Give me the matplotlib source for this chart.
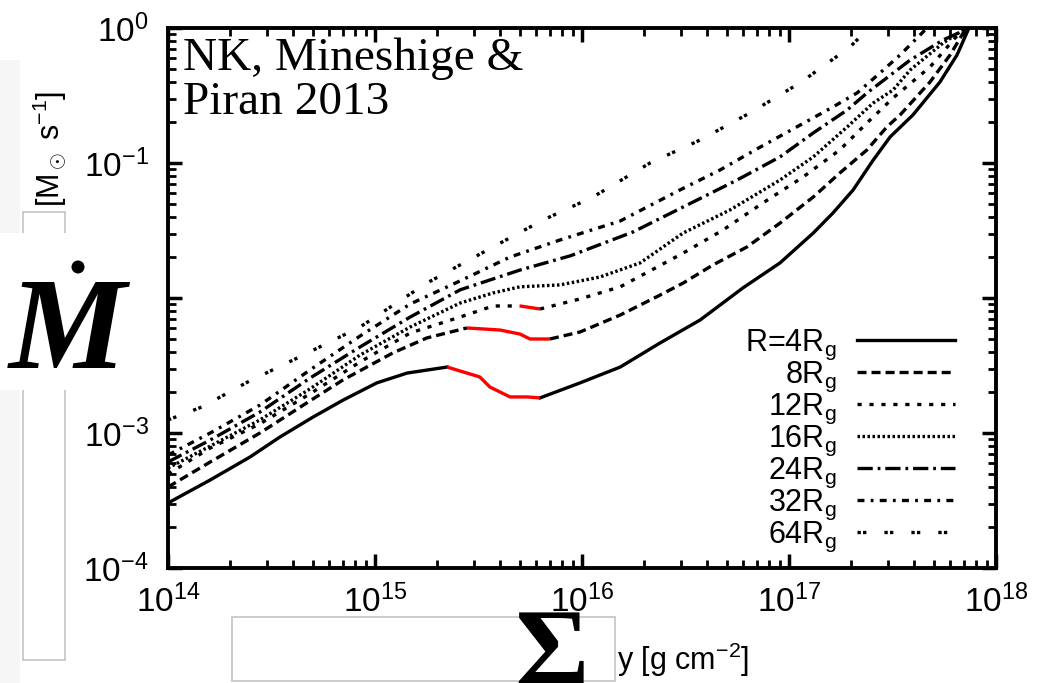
import numpy as np
import matplotlib
matplotlib.use("Agg")
import matplotlib.pyplot as plt
from matplotlib.patches import Rectangle, Ellipse
from matplotlib.ticker import LogLocator, NullFormatter

# surface density [g cm^-2] and accretion rate [Msun s^-1]
sigma_4 = [1.00e14, 1.60e14, 2.49e14, 3.47e14, 5.01e14, 7.00e14, 1.02e15, 1.43e15, 2.23e15,
           3.21e15, 3.59e15, 4.49e15, 5.42e15, 6.27e15, 9.78e15, 1.53e16, 2.38e16, 3.72e16,
           6.00e16, 9.05e16, 1.31e17, 1.63e17, 2.04e17, 2.55e17, 3.08e17, 3.97e17, 5.36e17,
           6.48e17, 7.33e17]
mdot_4 = [3.03e-4, 4.49e-4, 6.64e-4, 9.33e-4, 1.31e-3, 1.75e-3, 2.35e-3, 2.78e-3, 3.08e-3,
          2.60e-3, 2.19e-3, 1.85e-3, 1.85e-3, 1.82e-3, 2.35e-3, 3.08e-3, 4.64e-3, 6.87e-3,
          1.19e-2, 1.82e-2, 3.03e-2, 4.26e-2, 6.31e-2, 0.105, 0.156, 0.227, 0.398,
          0.631, 0.966]

sigma_8 = [1.00e14, 1.60e14, 2.78e14, 4.85e14, 7.00e14, 1.22e15, 1.78e15, 2.78e15, 4.02e15,
           5.01e15, 5.61e15, 7.00e15, 9.78e15, 1.53e16, 2.38e16, 3.08e16, 4.30e16, 6.27e16,
           9.05e16, 1.31e17, 1.76e17, 2.38e17, 2.97e17, 3.44e17, 4.80e17, 6.00e17, 7.08e17]
mdot_8 = [3.98e-4, 6.10e-4, 1.00e-3, 1.73e-3, 2.47e-3, 3.92e-3, 5.06e-3, 6.00e-3, 5.79e-3,
          5.41e-3, 4.97e-3, 4.97e-3, 5.60e-3, 7.48e-3, 1.05e-2, 1.29e-2, 1.76e-2, 2.39e-2,
          3.59e-2, 5.60e-2, 8.43e-2, 0.125, 0.185, 0.227, 0.398, 0.631, 0.966]

sigma_12 = [1.00e14, 1.60e14, 2.78e14, 4.85e14, 8.47e14, 1.48e15, 2.58e15, 3.72e15, 5.01e15,
            6.27e15, 9.78e15, 1.53e16, 3.08e16, 4.80e16, 7.48e16, 1.17e17, 1.76e17, 2.38e17,
            3.18e17, 4.80e17, 6.85e17]
mdot_12 = [4.97e-4, 7.74e-4, 1.17e-3, 1.95e-3, 3.36e-3, 5.51e-3, 7.23e-3, 8.73e-3, 8.73e-3,
           8.29e-3, 9.84e-3, 1.21e-2, 2.15e-2, 3.19e-2, 5.06e-2, 7.88e-2, 0.125, 0.198,
           0.303, 0.514, 0.966]

sigma_16 = [1.00e14, 1.60e14, 2.78e14, 4.85e14, 8.47e14, 1.48e15, 2.58e15, 3.72e15, 5.01e15,
            7.83e15, 1.22e16, 1.91e16, 3.08e16, 5.19e16, 9.05e16, 1.31e17, 1.91e17, 2.55e17,
            3.18e17, 3.85e17, 5.55e17, 6.93e17]
mdot_16 = [5.50e-4, 8.00e-4, 1.25e-3, 2.12e-3, 3.78e-3, 6.10e-3, 9.18e-3, 1.09e-2, 1.21e-2,
           1.25e-2, 1.43e-2, 1.82e-2, 3.03e-2, 4.49e-2, 7.48e-2, 0.111, 0.185, 0.278,
           0.347, 0.489, 0.774, 0.966]

sigma_24 = [1.00e14, 1.60e14, 2.78e14, 4.85e14, 8.47e14, 1.48e15, 2.58e15, 5.01e15, 8.75e15,
            1.76e16, 3.08e16, 5.61e16, 9.05e16, 1.31e17, 1.91e17, 2.38e17, 3.85e17, 5.55e17,
            7.08e17]
mdot_24 = [6.10e-4, 8.87e-4, 1.43e-3, 2.55e-3, 4.34e-3, 7.23e-3, 1.15e-2, 1.61e-2, 2.05e-2,
           3.08e-2, 4.72e-2, 7.48e-2, 0.111, 0.167, 0.247, 0.330, 0.579, 0.815, 0.966]

sigma_32 = [1.00e14, 1.60e14, 2.78e14, 4.85e14, 8.47e14, 1.48e15, 2.58e15, 4.49e15, 7.83e15,
            1.53e16, 2.97e16, 4.64e16, 7.25e16, 1.09e17, 1.63e17, 2.13e17, 2.75e17, 3.44e17,
            4.54e17]
mdot_32 = [6.87e-4, 1.00e-3, 1.61e-3, 2.93e-3, 5.23e-3, 9.03e-3, 1.34e-2, 2.01e-2, 2.69e-2,
           3.72e-2, 6.31e-2, 8.87e-2, 0.131, 0.185, 0.260, 0.330, 0.464, 0.631, 0.966]

sigma_64 = [1.00e14, 1.46e14, 2.43e14, 4.02e14, 8.47e14, 1.78e15, 3.72e15, 6.48e15, 1.13e16,
            2.13e16, 3.72e16, 6.48e16, 1.13e17, 1.97e17, 2.38e17]
mdot_64 = [1.25e-3, 1.56e-3, 2.39e-3, 3.47e-3, 6.10e-3, 1.29e-2, 2.39e-2, 3.78e-2, 5.60e-2,
           0.100, 0.148, 0.235, 0.392, 0.723, 0.966]

# index range of the unstable (red) branch, or None
unstable_4 = (8, 13)
unstable_8 = (7, 11)
unstable_12 = (8, 9)

radii = ["R=4", "8", "12", "16", "24", "32", "64"]

plt.rcParams['font.family'] = ['Liberation Sans', 'DejaVu Sans']
plt.rcParams['mathtext.fontset'] = 'custom'
plt.rcParams['mathtext.rm'] = 'Liberation Sans'
plt.rcParams['mathtext.it'] = 'Liberation Sans:italic'
plt.rcParams['mathtext.bf'] = 'Liberation Sans:bold'
plt.rcParams['lines.scale_dashes'] = False

W, H = 1045, 683


def fx(x):
    return x / W


def fy(y):
    return 1 - y / H


fig = plt.figure(figsize=(W / 100, H / 100), dpi=100)
ax = fig.add_axes([fx(168), fy(568), (996 - 168) / W, (568 - 28) / H])

LW = 2.4
curves = [
    (sigma_4, mdot_4, unstable_4, '-'),
    (sigma_8, mdot_8, unstable_8, (0, (6.5, 3.6))),
    (sigma_12, mdot_12, unstable_12, (0, (3.0, 5.6))),
    (sigma_16, mdot_16, None, (0, (1.8, 1.8))),
    (sigma_24, mdot_24, None, (0, (11, 3.5, 2, 3.5))),
    (sigma_32, mdot_32, None, (0, (5, 4.5, 2, 4.5))),
    (sigma_64, mdot_64, None, (0, (2.4, 1.6, 2.4, 13))),
]

handles = []
for s, m, red, ls in curves:
    s = np.array(s)
    m = np.array(m)
    if red is None:
        h, = ax.plot(s, m, color='black', lw=LW, linestyle=ls)
    else:
        i0, i1 = red
        h, = ax.plot(s[:i0 + 1], m[:i0 + 1], color='black', lw=LW, linestyle=ls)
        ax.plot(s[i1:], m[i1:], color='black', lw=LW, linestyle=ls)
        ax.plot(s[i0:i1 + 1], m[i0:i1 + 1], color='red', lw=LW, solid_capstyle='butt')
    handles.append(h)

ax.set_xscale('log')
ax.set_yscale('log')
ax.set_xlim(1e14, 1e18)
ax.set_ylim(1e-4, 1)
for a in (ax.xaxis, ax.yaxis):
    a.set_major_locator(LogLocator(base=10, numticks=20))
    a.set_minor_locator(LogLocator(base=10, subs=np.arange(2, 10), numticks=100))
    a.set_minor_formatter(NullFormatter())
ax.tick_params(which='both', direction='in', top=True, right=True, colors='black')
ax.tick_params(which='major', length=10, width=2.5, labelsize=24)
ax.tick_params(which='minor', length=5.5, width=2)
ax.tick_params(axis='x', which='major', pad=12)
ax.tick_params(axis='y', which='major', pad=14)
for sp in ax.spines.values():
    sp.set_linewidth(2.8)

labels = [r + r"R$_{\rm g}$" for r in radii]
ax.legend(handles, labels, loc='lower right', bbox_to_anchor=(0.95, 0.026),
          markerfirst=False, frameon=False, fontsize=22, handlelength=3.2,
          handletextpad=0.65, labelspacing=-0.07, borderpad=0, borderaxespad=0)

# partially covered axis labels
fig.text(fx(50), fy(149), r"[M$_\odot$ s$^{-1}$]", rotation=90, ha='center', va='center',
         fontsize=22)
fig.text(fx(617), fy(670), r"y [g cm$^{-2}$]", ha='left', va='baseline', fontsize=22)

# overlay boxes
fig.add_artist(Rectangle((0, fy(683)), fx(20), (683 - 60) / H, transform=fig.transFigure,
                         facecolor='#f6f6f6', edgecolor='none', zorder=4))
fig.add_artist(Rectangle((fx(23), fy(660)), fx(42), (660 - 212) / H, transform=fig.transFigure,
                         facecolor='white', edgecolor='#c8c8c8', lw=1.3, zorder=5))
fig.add_artist(Rectangle((fx(232), fy(681)), fx(615 - 232), (681 - 617) / H,
                         transform=fig.transFigure, facecolor='white', edgecolor='#c8c8c8',
                         lw=1.3, zorder=5))
fig.add_artist(Rectangle((0, fy(390)), fx(160), (390 - 233) / H, transform=fig.transFigure,
                         facecolor='white', edgecolor='none', zorder=6))

fig.text(fx(9), fy(368), "M", family='Liberation Serif', weight='bold', style='italic',
         fontsize=95, ha='left', va='baseline', zorder=7)
fig.add_artist(Ellipse((fx(78), fy(267)), 13 / W, 13 / H, transform=fig.transFigure,
                       facecolor='black', edgecolor='none', zorder=7))
fig.text(fx(551), fy(607), "\u03a3", family='Liberation Serif', weight='bold',
         fontsize=82, ha='center', va='top', zorder=7)

fig.text(fx(183), fy(38), "NK, Mineshige &\nPiran 2013", family='Liberation Serif',
         fontsize=34, ha='left', va='top', linespacing=1.02, zorder=7)

fig.savefig("out.png", dpi=100)
